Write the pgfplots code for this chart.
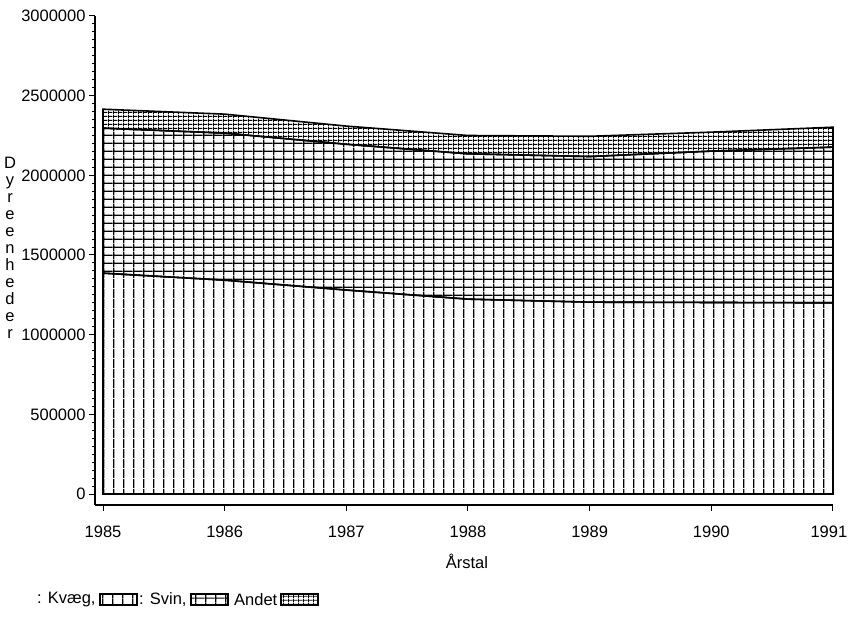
\documentclass[border=0pt]{standalone}
\usepackage{fontspec}
\setmainfont{Liberation Sans}
\usepackage{pgfplots}
\pgfplotsset{compat=1.18}
\usetikzlibrary{patterns}

% scanned SAS hatchings
\pgfdeclarepatternformonly{kvaeg}{\pgfpoint{0bp}{0bp}}{\pgfpoint{10.3bp}{10bp}}{\pgfpoint{10.3bp}{10bp}}{%
  \pgfsetlinewidth{1.3bp}%
  \pgfpathmoveto{\pgfpoint{0.7bp}{0bp}}\pgfpathlineto{\pgfpoint{0.7bp}{10bp}}%
  \pgfusepath{stroke}}
\pgfdeclarepatternformonly{svin}{\pgfpoint{0bp}{0bp}}{\pgfpoint{10.3bp}{8.2bp}}{\pgfpoint{10.3bp}{8.2bp}}{%
  \pgfsetlinewidth{1.3bp}%
  \pgfpathmoveto{\pgfpoint{0.7bp}{0bp}}\pgfpathlineto{\pgfpoint{0.7bp}{8.2bp}}%
  \pgfpathmoveto{\pgfpoint{0bp}{4.1bp}}\pgfpathlineto{\pgfpoint{10.3bp}{4.1bp}}%
  \pgfusepath{stroke}}
\pgfdeclarepatternformonly{andet}{\pgfpoint{0bp}{0bp}}{\pgfpoint{5.15bp}{4bp}}{\pgfpoint{5.15bp}{4bp}}{%
  \pgfsetlinewidth{1bp}%
  \pgfpathmoveto{\pgfpoint{0.6bp}{0bp}}\pgfpathlineto{\pgfpoint{0.6bp}{4bp}}%
  \pgfpathmoveto{\pgfpoint{0bp}{2bp}}\pgfpathlineto{\pgfpoint{5.15bp}{2bp}}%
  \pgfusepath{stroke}}

\pgfplotstableread{
aar   kvaeg    svin    andet
1985  1386000  910000  119000
1986  1342000  923000  119000
1987  1280000  915000  114000
1988  1223000  912000  115000
1989  1204000  914000  127000
1990  1202000  950000  119000
1991  1200000  977000  125000
}\dyr

\newcommand{\lbl}{\fontsize{16.5bp}{18bp}\selectfont}

\begin{document}
\begin{tikzpicture}
\useasboundingbox (0,0) rectangle (848bp,618bp);
\begin{axis}[
  at={(95bp,113bp)}, anchor=south west,
  scale only axis, width=738bp, height=489bp,
  xmin=1984.934, xmax=1991, ymin=-69000, ymax=3000000,
  axis lines*=left, tick align=outside,
  axis line style={line width=1.2bp},
  xtick={1985,...,1991}, minor x tick num=11,
  xticklabels={1985,1986,1987,1988,1989,1990,{\hspace*{-8bp}1991}},
  ytick={0,500000,...,3000000}, minor y tick num=9,
  major tick length=6bp, minor tick length=3bp,
  every tick/.style={black, line width=1bp},
  scaled y ticks=false,
  ticklabel style={font=\lbl},
  xticklabel style={yshift=-11bp},
  /pgf/number format/assume math mode=true,
  /pgf/number format/1000 sep={},
  yticklabel style={/pgf/number format/fixed},
  xlabel={Årstal},
  xlabel style={font=\lbl, at={(axis description cs:0.504,0)}, anchor=center, yshift=-56bp},
  stack plots=y,
  clip=false,
]
\addplot[draw=black, line width=1.6bp, pattern=kvaeg] table[x=aar, y=kvaeg] {\dyr} \closedcycle;
\addplot[draw=black, line width=1.6bp, pattern=svin] table[x=aar, y=svin] {\dyr} \closedcycle;
\addplot[draw=black, line width=1.6bp, pattern=andet] table[x=aar, y=andet] {\dyr} \closedcycle;
\end{axis}

\node[align=center, font=\fontsize{16.5bp}{17bp}\selectfont] at (10bp,370bp)
  {D\\y\\r\\e\\e\\n\\h\\e\\d\\e\\r};

% legend as in the original print
\node[anchor=west, font=\lbl, inner sep=0pt] at (37bp,18bp) {: Kvæg,};
\draw[line width=1.2bp, pattern=kvaeg] (100bp,13bp) rectangle (137bp,24bp);
\node[anchor=west, font=\lbl, inner sep=0pt] at (139bp,18bp) {: Svin,};
\draw[line width=1.2bp, pattern=svin] (191bp,13bp) rectangle (228bp,24bp);
\node[anchor=west, font=\lbl, inner sep=0pt] at (234bp,18bp) {Andet};
\draw[line width=1.2bp, pattern=andet] (281bp,13bp) rectangle (318bp,24bp);
\end{tikzpicture}
\end{document}
